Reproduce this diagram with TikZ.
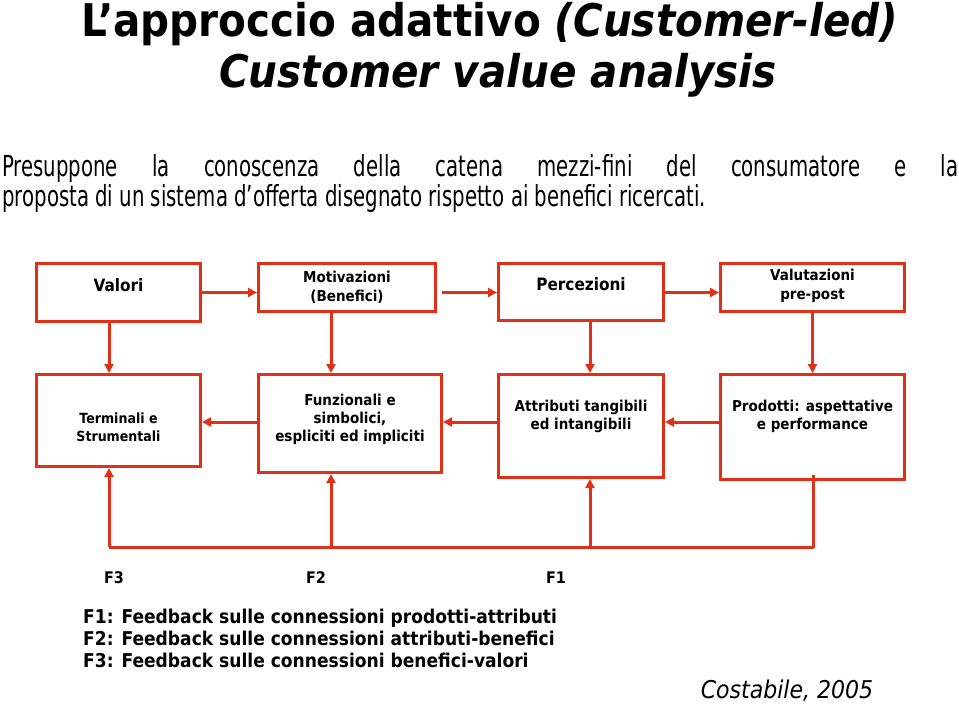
\documentclass[tikz,border=0pt]{standalone}
\usepackage{fontspec}
\setmainfont{DejaVu Sans}[FakeStretch=0.9]
\newfontfamily\introfont{DejaVu Sans}[FakeStretch=0.68]
\usetikzlibrary{arrows.meta}
\definecolor{slidered}{RGB}{226,48,22}

\begin{document}
\begin{tikzpicture}[
  x=1pt,
  y=-1pt,
  box/.style={
    draw=slidered,
    line width=3pt,
    rectangle,
    inner sep=0pt
  },
  boxtext/.style={
    align=center,
    inner sep=0pt,
    font=\bfseries\fontsize{15}{18}\selectfont
  },
  bigtext/.style={
    boxtext,
    font=\bfseries\fontsize{17}{19}\selectfont
  },
  smalltext/.style={
    boxtext,
    font=\bfseries\fontsize{15}{19}\selectfont
  },
  flow/.style={
    slidered,
    line width=3pt,
    -{Triangle[length=9pt,width=9pt]}
  },
  plain/.style={
    slidered,
    line width=3pt
  },
  flabel/.style={
    font=\bfseries\fontsize{16}{18}\selectfont
  },
]
\useasboundingbox (0,0) rectangle (959,707);

% titolo
\node[font=\bfseries\fontsize{45}{50}\selectfont] (title) at (490,24)
  {L’approccio adattivo \textit{(Customer-led)}};
\node[font=\bfseries\itshape\fontsize{45}{50}\selectfont] (subtitle) at (498,75)
  {Customer value analysis};
\node[anchor=north west, inner sep=0pt, text width=956pt, align=justify,
  font=\introfont\fontsize{29}{30}\selectfont] (intro) at (2,154)
  {Presuppone la conoscenza della catena mezzi-fini del consumatore e la\linebreak
   proposta di un sistema d’offerta disegnato rispetto ai benefici ricercati.};

% prima riga
\node[box, minimum width=164pt, minimum height=58pt] (valori) at (118.5,292.5) {};
\node[box, minimum width=177pt, minimum height=48pt] (motiv) at (347,287.5) {};
\node[box, minimum width=165pt, minimum height=57pt] (perc) at (581,292) {};
\node[box, minimum width=184pt, minimum height=48pt] (valut) at (812.5,287.5) {};
\node[bigtext] (tvalori) at (118.5,285) {Valori};
\node[smalltext] (tmotiv) at (347,287) {Motivazioni\\(Benefici)};
\node[bigtext] (tperc) at (581,284) {Percezioni};
\node[smalltext] (tvalut) at (812.5,286) {Valutazioni\\pre-post};

% seconda riga
\node[box, minimum width=164pt, minimum height=92pt] (term) at (118.5,420.5) {};
\node[box, minimum width=183pt, minimum height=98pt] (funz) at (350,423.5) {};
\node[box, minimum width=165pt, minimum height=103pt] (attr) at (581,426) {};
\node[box, minimum width=184pt, minimum height=105pt] (prod) at (812.5,427) {};
\node[boxtext, font=\bfseries\fontsize{14}{18}\selectfont] (tterm) at (118.5,427)
  {Terminali e\\Strumentali};
\node[boxtext] (tfunz) at (350,419) {Funzionali e\\simbolici,\\espliciti ed impliciti};
\node[boxtext] (tattr) at (581,416) {Attributi tangibili\\ed intangibili};
\node[boxtext] (tprod) at (812.5,416) {Prodotti: aspettative\\e performance};

% frecce
\draw[flow] (valori) -- (valori -| motiv.west);
\draw[flow] ([xshift=5pt]motiv.east |- valori) -- (valori -| perc.west);
\draw[flow] (valori -| perc.east) -- (valori -| valut.west);
\draw[flow] ([xshift=-9.5pt]valori.south) -- ([xshift=-9.5pt]term.north);
\draw[flow] ([xshift=-16pt]motiv.south) -- ([xshift=-19pt]funz.north);
\draw[flow] ([xshift=9pt]perc.south) -- ([xshift=9pt]attr.north);
\draw[flow] (valut.south) -- (prod.north);
\draw[flow] (funz.west |- 0,422) -- (term.east |- 0,422);
\draw[flow] (attr.west |- 0,422) -- (funz.east |- 0,422);
\draw[flow] (prod.west |- 0,422) -- (attr.east |- 0,422);

% feedback
\coordinate (fbL) at (109,547);
\coordinate (fbR) at (813,547);
\draw[plain, line join=round] ([yshift=6pt]prod.south -| fbR) -- (fbR) -- (fbL);
\draw[flow] (fbL) -- (fbL |- term.south);
\draw[flow] ([xshift=-19pt]funz.south |- fbL) -- ([xshift=-19pt]funz.south);
\draw[flow] ([xshift=9pt]attr.south |- fbL) -- ([xshift=9pt]attr.south);
\node[flabel] (f3) at (114,578) {F3};
\node[flabel] (f2) at (316,578) {F2};
\node[flabel] (f1) at (556,578) {F1};

% legenda
\node[anchor=north west, inner sep=0pt, align=left,
  font=\bfseries\fontsize{19}{22}\selectfont] (legend) at (83,609)
  {F1: Feedback sulle connessioni prodotti-attributi\\
   F2: Feedback sulle connessioni attributi-benefici\\
   F3: Feedback sulle connessioni benefici-valori};
\node[font=\itshape\fontsize{24.5}{28}\selectfont] (source) at (787,691) {Costabile, 2005};
\end{tikzpicture}
\end{document}
